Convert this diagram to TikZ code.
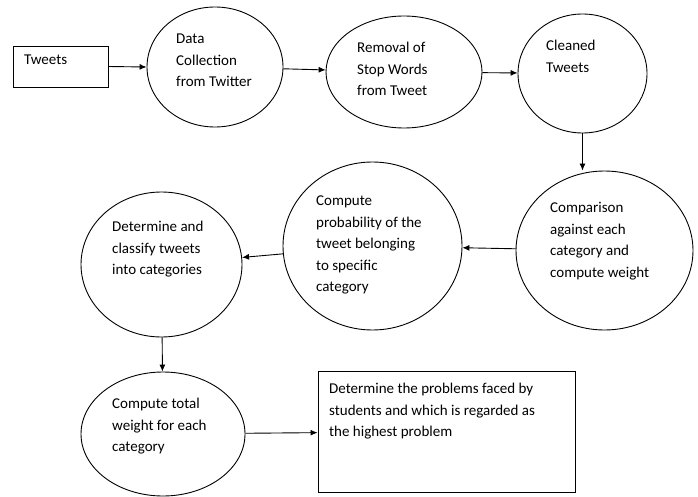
\documentclass[tikz,border=0pt]{standalone}
\usepackage{fontspec}
\setmainfont{Carlito}
\usepackage{tikz}
\usepackage{tkz-euclide}
\usetikzlibrary{calc,shapes.geometric}
\usetikzlibrary{arrows.meta}

\begin{document}
\begin{tikzpicture}[x=1pt,y=-1pt,
                bubble/.style={draw,ellipse,line width=0.9pt,inner sep=0pt},
                box/.style={draw,rectangle,line width=0.9pt,inner sep=0pt},
                txt/.style={anchor=north west,align=left,inner sep=0pt,font=\fontsize{15}{21.5}\selectfont},
                flow/.style={-{Latex[length=7pt,width=6pt]},line width=0.9pt}]
                \useasboundingbox (0,0) rectangle (698,497);
                \tkzDefPoint(60.5,66.5){T}
                \tkzDefPoint(215,67){A}
                \tkzDefPoint(404,72){B}
                \tkzDefPoint(582.5,73.5){C}
                \tkzDefPoint(604.5,250.5){D}
                \tkzDefPoint(372.5,246){E}
                \tkzDefPoint(161.5,264.5){F}
                \tkzDefPoint(163,434){G}
                \tkzDefPoint(446.5,431.5){P}
                % shapes
                \node[box,minimum width=95pt,minimum height=41pt] (Tw) at (T) {};
                \node[bubble,minimum width=136pt,minimum height=120pt] (Dc) at (A) {};
                \node[bubble,minimum width=156pt,minimum height=112pt] (Sw) at (B) {};
                \node[bubble,minimum width=129pt,minimum height=119pt] (Ct) at (C) {};
                \node[bubble,minimum width=177pt,minimum height=159pt] (Cm) at (D) {};
                \node[bubble,minimum width=179pt,minimum height=168pt] (Pb) at (E) {};
                \node[bubble,minimum width=161pt,minimum height=145pt] (Cl) at (F) {};
                \node[bubble,minimum width=164pt,minimum height=124pt] (Tot) at (G) {};
                \node[box,minimum width=257pt,minimum height=121pt] (Pr) at (P) {};
                % texts
                \node[txt] (TwL) at (24,55) {Tweets};
                \node[txt] (DcL) at (176,34) {Data\\Collection\\from Twitter};
                \node[txt] (SwL) at (357,42) {Removal of\\Stop Words\\from Tweet};
                \node[txt] (CtL) at (546,40) {Cleaned\\Tweets};
                \node[txt] (CmL) at (550,202) {Comparison\\against each\\category and\\compute weight};
                \node[txt] (PbL) at (316,196) {Compute\\probability of the\\tweet belonging\\to specific\\category};
                \node[txt] (ClL) at (112,221) {Determine and\\classify tweets\\into categories};
                \node[txt] (TotL) at (112,398) {Compute total\\weight for each\\category};
                \node[txt] (PrL) at (329,383) {Determine the problems faced by\\students and which is regarded as\\the highest problem};
                % arrows
                \draw[flow] (Tw.east) -- (Dc.west);
                \draw[flow] (Dc) -- (Sw);
                \draw[flow] (Sw) -- (Ct);
                \draw[flow] (Ct.south) -- (Ct.south |- Cm.north);
                %\draw[flow] (Ct) -- (Cm);
                \draw[flow] (Cm) -- (Pb);
                \draw[flow] (Pb) -- (Cl);
                \draw[flow] (Cl) -- (Tot);
                \draw[flow] (Tot) -- (Pr);
            \end{tikzpicture}
\end{document}
